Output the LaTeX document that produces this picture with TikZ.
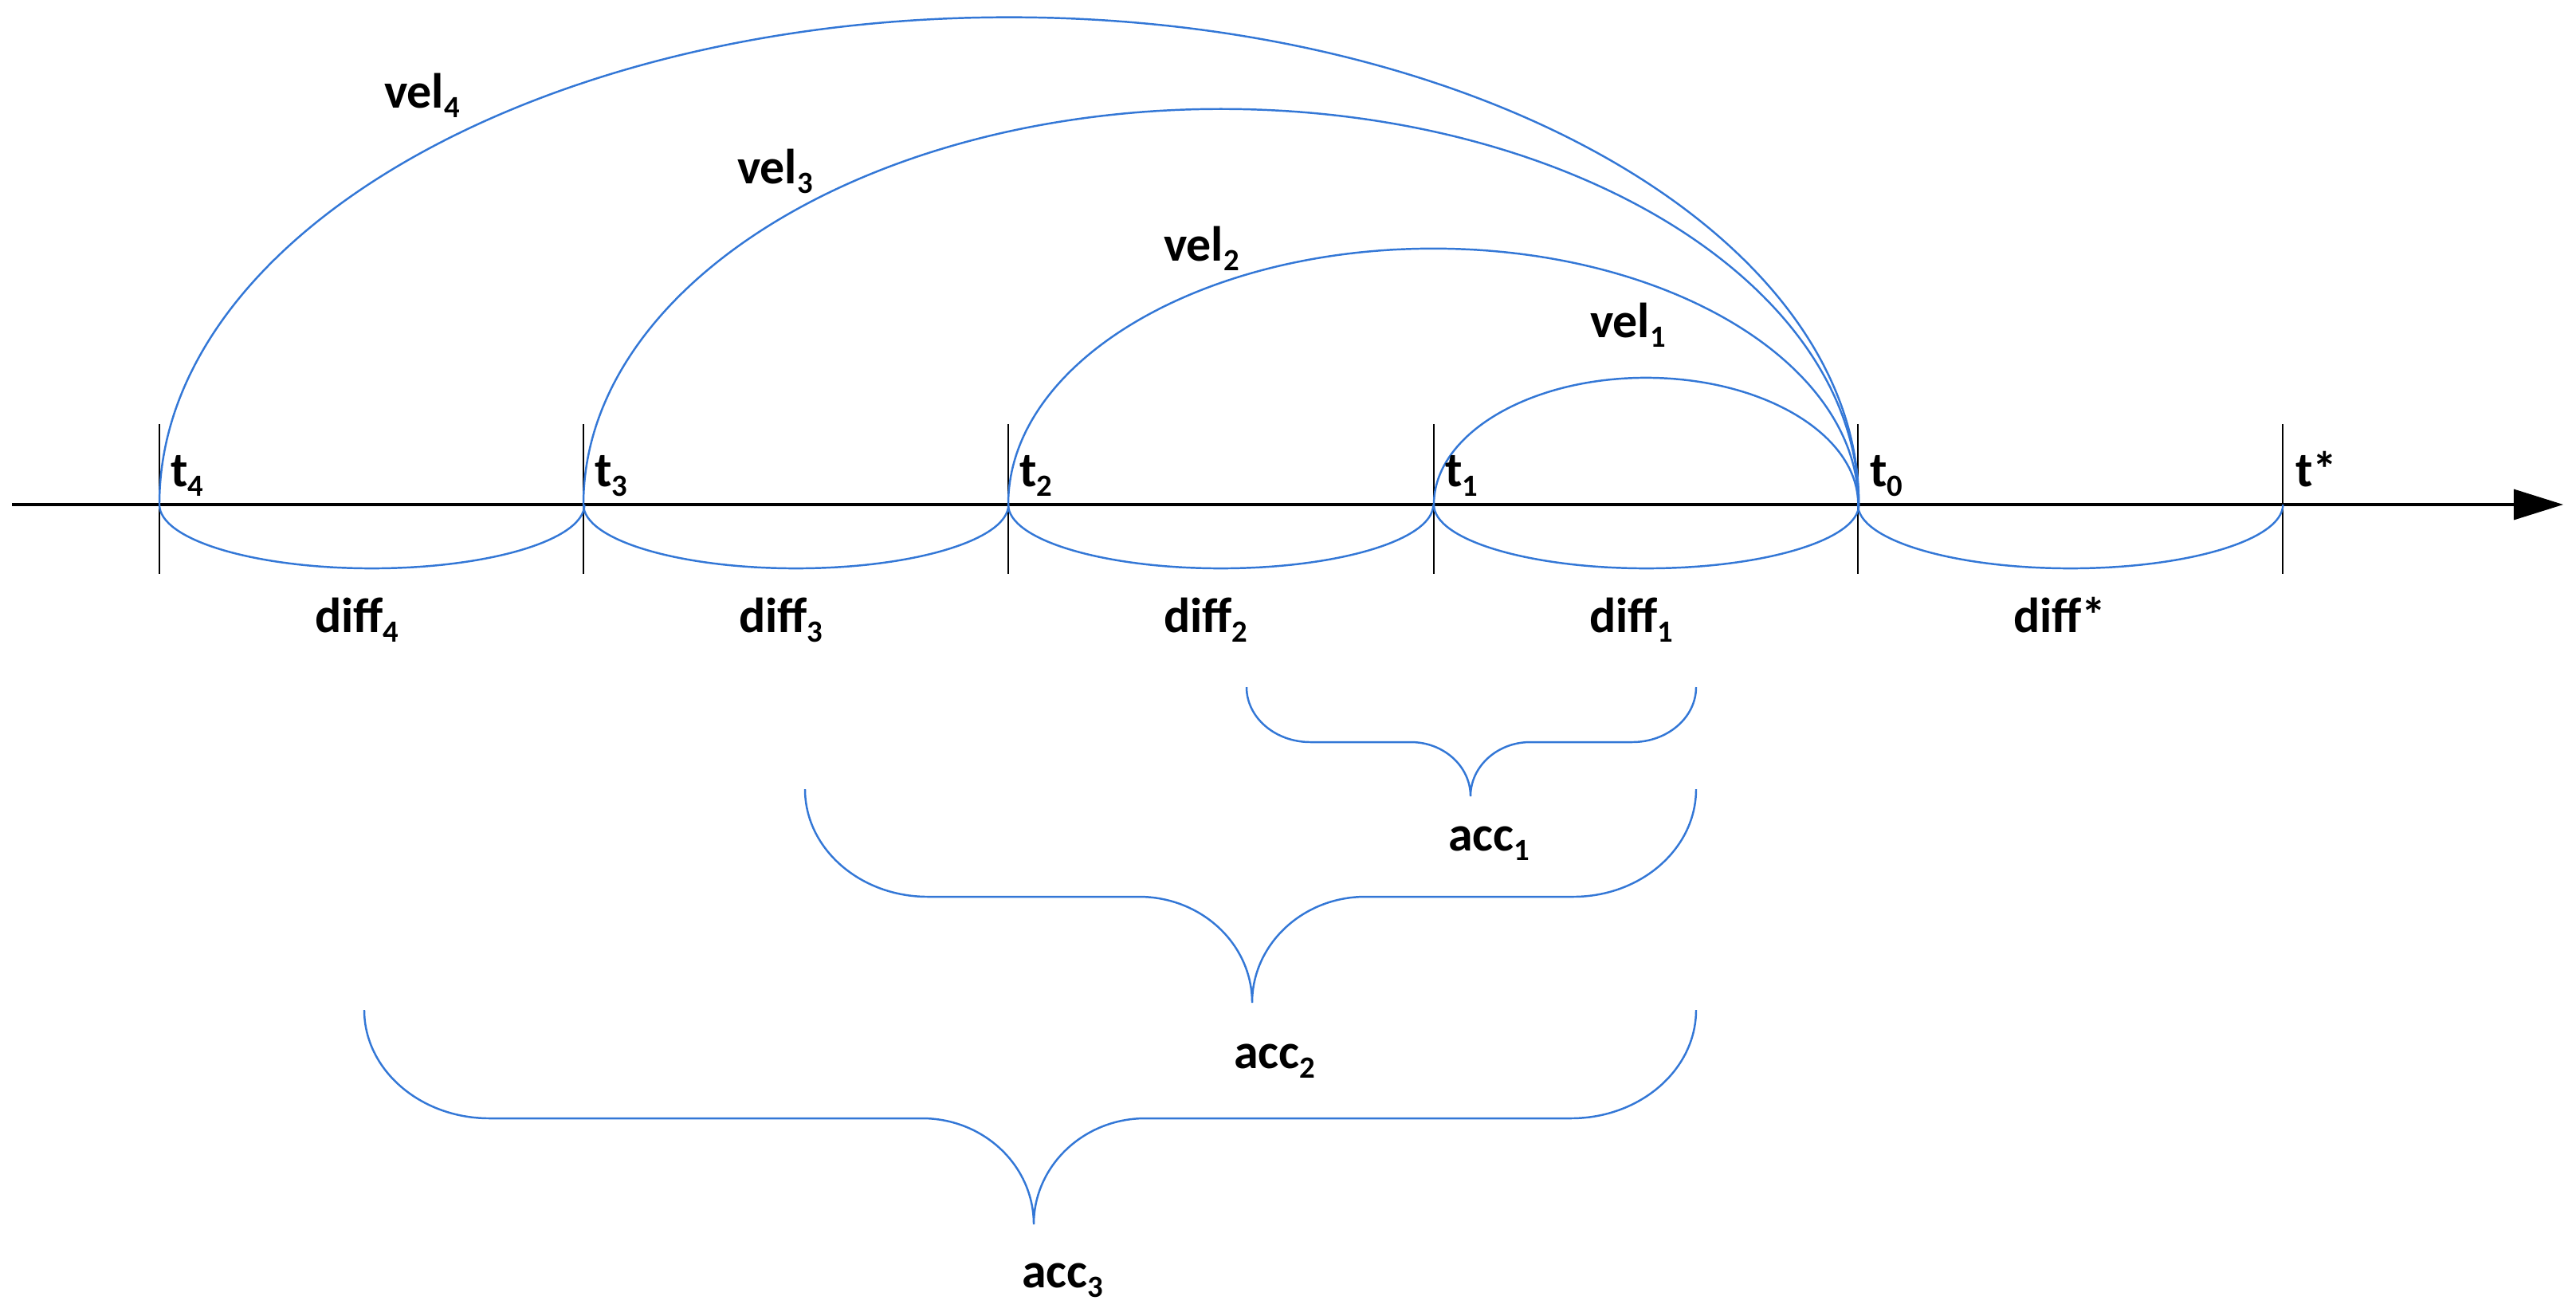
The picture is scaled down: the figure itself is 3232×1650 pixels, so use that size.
\documentclass[tikz,border=0pt]{standalone}
\usepackage{fontspec}
\setmainfont{Carlito}
\usetikzlibrary{arrows.meta}
\definecolor{arcblue}{RGB}{51,119,214}
\newcommand{\sbx}[1]{\raisebox{-0.2em}{\fontsize{11}{11}\selectfont #1}}
\newcommand{\myBrace}[8]{%
  \draw[bl] (#1,#3) .. controls (#1,{#3+0.552*(#4-#3)}) and ({#1+#7-0.552*#7},#4) .. ({#1+#7},#4)
    -- ({#5-#8},#4) .. controls ({#5-#8+0.552*#8},#4) and (#5,{#6-0.552*(#6-#4)}) .. (#5,#6)
    .. controls (#5,{#6-0.552*(#6-#4)}) and ({#5+#8-0.552*#8},#4) .. ({#5+#8},#4)
    -- ({#2-#7},#4) .. controls ({#2-#7+0.552*#7},#4) and (#2,{#3+0.552*(#4-#3)}) .. (#2,#3);}
\begin{document}
\begin{tikzpicture}[x=0.01cm,y=-0.01cm,
  bl/.style={draw=arcblue,line width=0.7pt},
  axisline/.style={draw=black,line width=0.9pt},
  tickline/.style={draw=black,line width=0.6pt},
  lbl/.style={inner sep=0pt,outer sep=0pt,font=\fontsize{17.6}{20}\selectfont\bfseries,text=black}]
\useasboundingbox (0,0) rectangle (3232,1650);
% axis
\coordinate (axL) at (15,633);
\coordinate (axR) at (3216,633);
\coordinate (t4) at (200,633);
\coordinate (t3) at (732,633);
\coordinate (t2) at (1265,633);
\coordinate (t1) at (1799,633);
\coordinate (t0) at (2331,633);
\coordinate (ts) at (2864,633);
\draw[axisline,-{Triangle[length=0.62cm,width=0.38cm]}] (axL) -- (axR);
\foreach \p in {t4,t3,t2,t1,t0,ts}
  \draw[tickline] ([yshift=1.01cm]\p) -- ([yshift=-0.87cm]\p);
% velocity arcs
\draw[bl] (t1) arc[start angle=180,end angle=0,x radius=2.66cm,y radius=1.59cm];
\draw[bl] (t2) arc[start angle=180,end angle=0,x radius=5.33cm,y radius=3.21cm];
\draw[bl] (t3) arc[start angle=180,end angle=0,x radius=7.995cm,y radius=4.96cm];
\draw[bl] (t4) arc[start angle=180,end angle=0,x radius=10.655cm,y radius=6.11cm];
% difference arcs
\foreach \p in {t4,t3,t2,t1,t0}
  \draw[bl] (\p) arc[start angle=180,end angle=360,x radius=2.665cm,y radius=0.80cm];
% acceleration braces
\myBrace{1564}{2128}{862}{931}{1845}{999}{80}{75}
\myBrace{1010}{2128}{990}{1125}{1571}{1258}{154}{142}
\myBrace{457}{2128}{1267}{1403}{1297}{1536}{157}{140}
% labels
\node[lbl,anchor=base west] (lt4) at (214,610) {t\sbx{4}};
\node[lbl,anchor=base west] (lt3) at (746,610) {t\sbx{3}};
\node[lbl,anchor=base west] (lt2) at (1279,610) {t\sbx{2}};
\node[lbl,anchor=base west] (lt1) at (1813,610) {t\sbx{1}};
\node[lbl,anchor=base west] (lt0) at (2346,610) {t\sbx{0}};
\node[lbl,anchor=base west] (lts) at (2880,610) {t*};
\node[lbl,anchor=base west] (v4) at (482,135) {vel\sbx{4}};
\node[lbl,anchor=base west] (v3) at (925,230) {vel\sbx{3}};
\node[lbl,anchor=base west] (v2) at (1460,327) {vel\sbx{2}};
\node[lbl,anchor=base west] (v1) at (1995,423) {vel\sbx{1}};
\node[lbl,anchor=base west] (d4) at (395,793) {diff\sbx{4}};
\node[lbl,anchor=base west] (d3) at (927,793) {diff\sbx{3}};
\node[lbl,anchor=base west] (d2) at (1460,793) {diff\sbx{2}};
\node[lbl,anchor=base west] (d1) at (1994,793) {diff\sbx{1}};
\node[lbl,anchor=base west] (ds) at (2526,793) {diff*};
\node[lbl,anchor=base west] (a1) at (1817,1067) {acc\sbx{1}};
\node[lbl,anchor=base west] (a2) at (1548,1340) {acc\sbx{2}};
\node[lbl,anchor=base west] (a3) at (1282,1615) {acc\sbx{3}};
\end{tikzpicture}
\end{document}
